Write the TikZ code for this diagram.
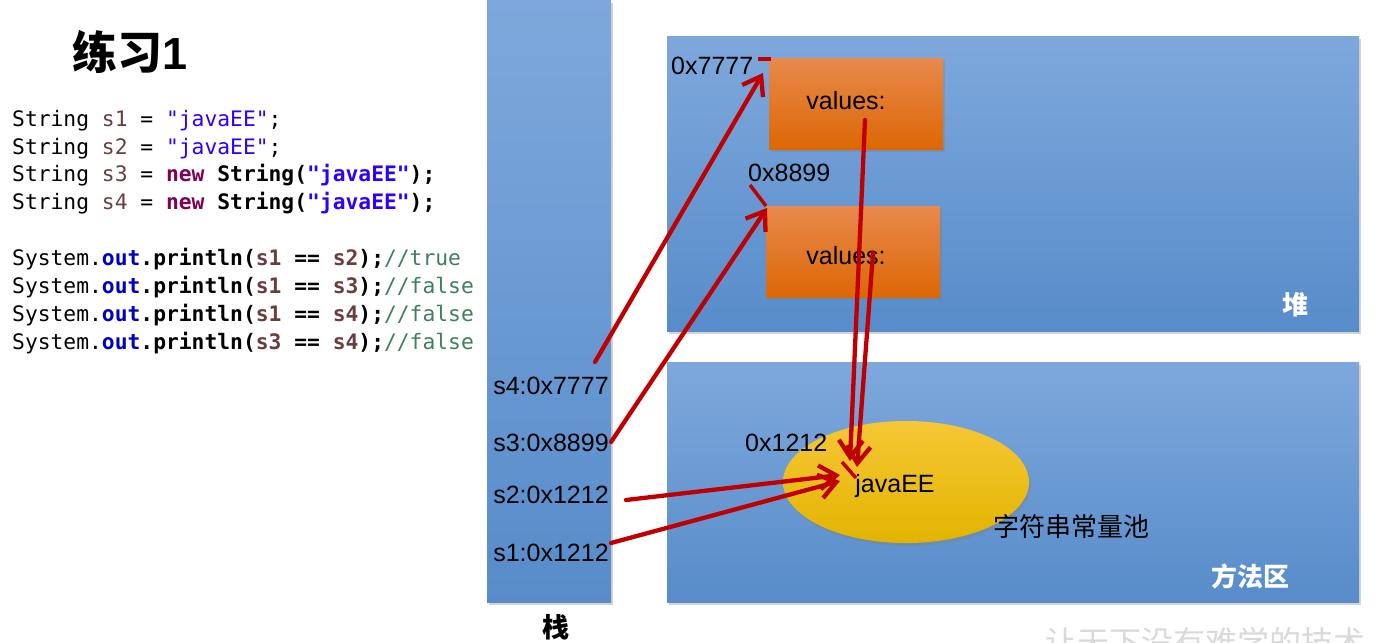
\documentclass[tikz,border=0pt]{standalone}
\usepackage{fontspec}
\setmainfont{Liberation Sans}
\newfontfamily\cjk{Noto Sans CJK SC}
\newfontfamily\code{DejaVu Sans Mono}
\usetikzlibrary{arrows.meta,shadows,shapes.geometric}
\definecolor{blueTop}{HTML}{7EA8DC}
\definecolor{blueMid}{HTML}{659CDC}
\definecolor{blueBot}{HTML}{578CCA}
\definecolor{orTop}{HTML}{E8894C}
\definecolor{orMid}{HTML}{E7771F}
\definecolor{orBot}{HTML}{DC6705}
\definecolor{ylTop}{HTML}{F6C736}
\definecolor{ylMid}{HTML}{F5C400}
\definecolor{ylBot}{HTML}{E2B400}
\definecolor{arr}{HTML}{C00000}
\definecolor{cvar}{HTML}{6A3E3E}
\definecolor{cstr}{HTML}{2A00FF}
\definecolor{ckw}{HTML}{7F0055}
\definecolor{cfld}{HTML}{0000C0}
\definecolor{ccmt}{HTML}{3F7F5F}
\tikzset{
  region/.style={draw=none, anchor=north west, inner sep=0pt,
    top color=blueTop, middle color=blueMid, bottom color=blueBot,
    drop shadow={shadow xshift=2pt, shadow yshift=-3pt, opacity=0.35}},
  objbox/.style={draw=none, anchor=north west, inner sep=0pt,
    top color=orTop, middle color=orMid, bottom color=orBot,
    drop shadow={shadow xshift=2pt, shadow yshift=-3pt, opacity=0.35}},
  pool/.style={ellipse, draw=none, inner sep=0pt,
    top color=ylTop, middle color=ylMid, bottom color=ylBot,
    drop shadow={shadow xshift=2pt, shadow yshift=-3pt, opacity=0.35}},
  lbl/.style={font=\fontsize{25}{28}\selectfont, inner sep=0pt},
  cjklbl/.style={font=\cjk\fontsize{26}{28}\selectfont, inner sep=0pt},
  areaname/.style={font=\cjk\bfseries\fontsize{26}{28}\selectfont, text=white, inner sep=0pt},
  codeline/.style={font=\code\fontsize{21.3}{28}\selectfont, anchor=base west, inner sep=0pt},
  arrowline/.style={draw=arr, line width=4.3pt, line cap=round,
    -{Straight Barb[length=17pt,width=24pt,line width=4.3pt]}},
  tick/.style={draw=arr, line width=3.5pt},
}
\begin{document}
\begin{tikzpicture}[x=1pt,y=-1pt]
\useasboundingbox (0,0) rectangle (1380,642);
\clip (0,0) rectangle (1380,642);

% title
\node[inner sep=0pt] (title) at (130,52) {\cjk\bfseries\fontsize{45}{48}\selectfont 练习\textbf{\fontspec{Liberation Sans}1}};

% code
\node[codeline] (c1) at (12,126) {String {\color{cvar}s1} = {\color{cstr}"javaEE"};};
\node[codeline] (c2) at (12,154) {String {\color{cvar}s2} = {\color{cstr}"javaEE"};};
\node[codeline] (c3) at (12,181) {String {\color{cvar}s3} = {\bfseries{\color{ckw}new} String({\color{cstr}"javaEE"});}};
\node[codeline] (c4) at (12,209) {String {\color{cvar}s4} = {\bfseries{\color{ckw}new} String({\color{cstr}"javaEE"});}};
\node[codeline] (c5) at (12,265) {System.{\bfseries\color{cfld}out}{\bfseries .println({\color{cvar}s1} == {\color{cvar}s2});}{\color{ccmt}//true}};
\node[codeline] (c6) at (12,293) {System.{\bfseries\color{cfld}out}{\bfseries .println({\color{cvar}s1} == {\color{cvar}s3});}{\color{ccmt}//false}};
\node[codeline] (c7) at (12,321) {System.{\bfseries\color{cfld}out}{\bfseries .println({\color{cvar}s1} == {\color{cvar}s4});}{\color{ccmt}//false}};
\node[codeline] (c8) at (12,349) {System.{\bfseries\color{cfld}out}{\bfseries .println({\color{cvar}s3} == {\color{cvar}s4});}{\color{ccmt}//false}};

% regions
\node[region, minimum width=124pt, minimum height=602pt] (stack) at (487,0) {};
\node[region, minimum width=692pt, minimum height=295pt] (heap) at (667,36) {};
\node[region, minimum width=692pt, minimum height=240pt] (method) at (667,362) {};

\node[font=\cjk\bfseries\fontsize{27}{28}\selectfont, inner sep=0pt] (stackname) at (556,627) {栈};
\node[areaname] (heapname) at (1295,305) {堆};
\node[areaname] (methodname) at (1250,576) {方法区};

% heap objects
\node[objbox, minimum width=174pt, minimum height=91pt] (obj1) at (769,58) {};
\node[objbox, minimum width=174pt, minimum height=91pt] (obj2) at (766,206) {};
\node[lbl] (v1) at (846,101) {values:};
\node[lbl] (v2) at (846,256) {values:};
\node[lbl, anchor=west] (addr1) at (671,66) {0x7777};
\node[lbl, anchor=west] (addr2) at (748,173) {0x8899};

% string pool
\node[pool, minimum width=246pt, minimum height=122pt] (poolnode) at (906,482) {};
\node[lbl, anchor=west] (addr3) at (745,443) {0x1212};
\node[lbl] (jee) at (895,486) {javaEE};
\node[cjklbl, anchor=west] (poolname) at (993,527) {字符串常量池};

% stack variables
\node[lbl] (s4) at (551,386) {s4:0x7777};
\node[lbl] (s3) at (551,443) {s3:0x8899};
\node[lbl] (s2) at (551,495) {s2:0x1212};
\node[lbl] (s1) at (551,553) {s1:0x1212};

% connector ends
\coordinate (s4o) at (595,362);
\coordinate (s3o) at (611,442);
\coordinate (s2o) at (626,500);
\coordinate (s1o) at (611,543);
\coordinate (o1in) at (763,73);
\coordinate (o2in) at (767,208);
\coordinate (p2in) at (840,475);
\coordinate (p1in) at (840,481);
\coordinate (v1o) at (865,120);
\coordinate (v2o) at (873,253);
\coordinate (pv1in) at (850,461);
\coordinate (pv2in) at (857,467);
\coordinate (t1a) at (758,59);
\coordinate (t1b) at (771,59);
\coordinate (t2a) at (750,185);
\coordinate (t2b) at (766,206);
\coordinate (t3a) at (842,462);
\coordinate (t3b) at (856,478);

\draw[arrowline] (s4o) -- (o1in);
\draw[arrowline] (s3o) -- (o2in);
\draw[arrowline] (s2o) -- (p2in);
\draw[arrowline] (s1o) -- (p1in);
\draw[arrowline] (v1o) -- (pv1in);
\draw[arrowline] (v2o) -- (pv2in);
\draw[tick] (t1a) -- (t1b);
\draw[tick] (t2a) -- (t2b);
\draw[tick] (t3a) -- (t3b);

% watermark (cut off at the lower edge, as in the original)
\node[font=\cjk\fontsize{32}{34}\selectfont, text=black!15, anchor=north west, inner sep=0pt] (wm) at (1045,627) {让天下没有难学的技术};
\end{tikzpicture}
\end{document}
